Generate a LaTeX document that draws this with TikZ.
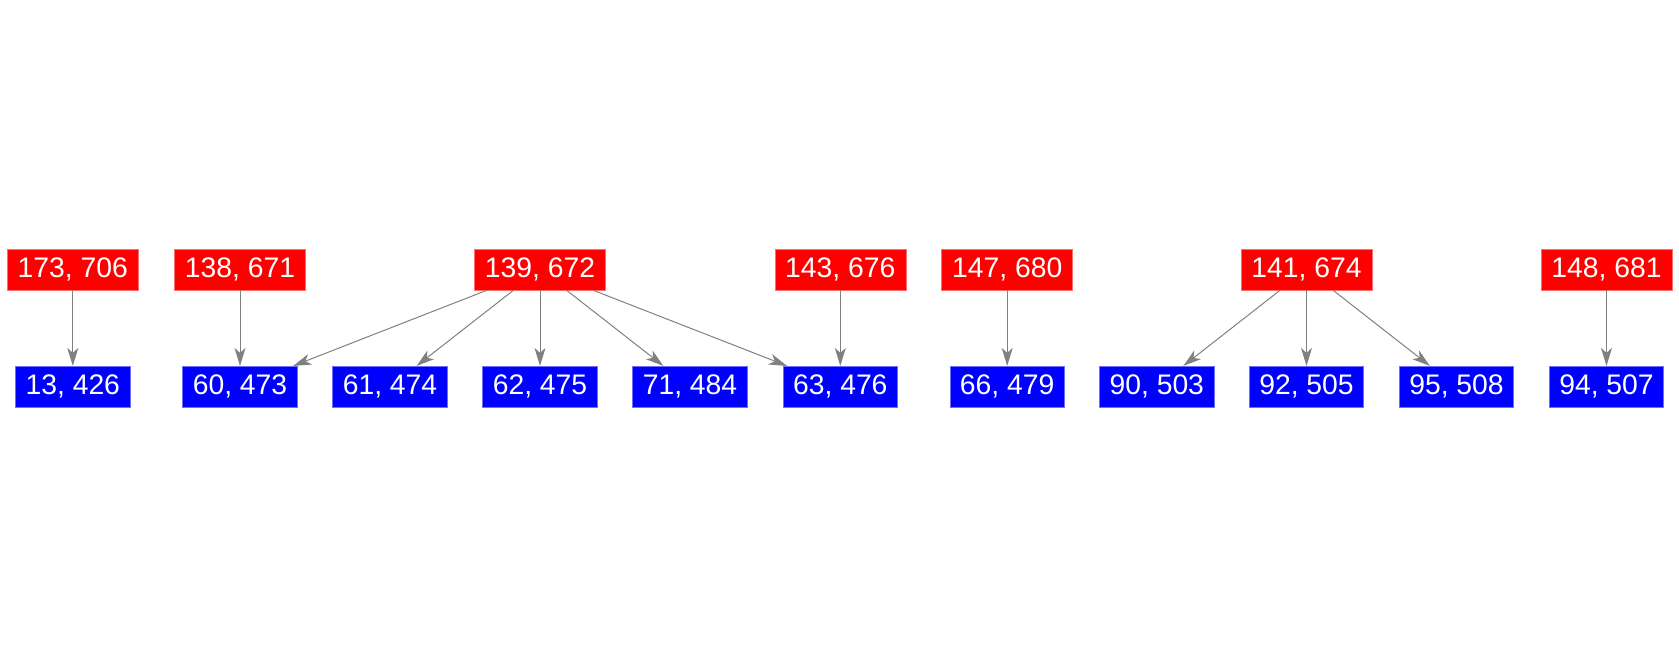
\documentclass[tikz,border=0pt]{standalone}
\usepackage{fontspec}
\setmainfont{Liberation Sans}
\usetikzlibrary{arrows.meta}
\begin{document}
\begin{tikzpicture}[x=1pt,y=-1pt,
  redbox/.style={rectangle,fill={rgb,255:red,255;green,0;blue,0},draw={rgb,255:red,255;green,110;blue,110},line width=0.6pt,minimum width=131pt,minimum height=41pt,inner sep=0pt,text=white,font=\fontsize{28.3}{30}\selectfont},
  bluebox/.style={rectangle,fill={rgb,255:red,0;green,0;blue,255},draw={rgb,255:red,110;green,110;blue,255},line width=0.6pt,minimum width=114.5pt,minimum height=41pt,inner sep=0pt,text=white,font=\fontsize{28.3}{30}\selectfont},
  edge/.style={draw={rgb,255:red,128;green,128;blue,128},line width=1pt,-{Stealth[length=18pt,width=11pt,inset=5pt]}}]
\useasboundingbox (0,0) rectangle (1679,656);
% red row
\node[redbox] (r1) at (72.8,269.5) {173, 706};
\node[redbox] (r2) at (240,269.5) {138, 671};
\node[redbox] (r3) at (540,269.5) {139, 672};
\node[redbox] (r4) at (840.3,269.5) {143, 676};
\node[redbox] (r5) at (1007.2,269.5) {147, 680};
\node[redbox] (r6) at (1306.5,269.5) {141, 674};
\node[redbox] (r7) at (1606.5,269.5) {148, 681};
% blue row
\node[bluebox] (b1) at (72.8,386.7) {13, 426};
\node[bluebox] (b2) at (240,386.7) {60, 473};
\node[bluebox] (b3) at (390,386.7) {61, 474};
\node[bluebox] (b4) at (540,386.7) {62, 475};
\node[bluebox] (b5) at (690,386.7) {71, 484};
\node[bluebox] (b6) at (840.3,386.7) {63, 476};
\node[bluebox] (b7) at (1007.2,386.7) {66, 479};
\node[bluebox] (b8) at (1156.8,386.7) {90, 503};
\node[bluebox] (b9) at (1306.5,386.7) {92, 505};
\node[bluebox] (b10) at (1456.5,386.7) {95, 508};
\node[bluebox] (b11) at (1606.5,386.7) {94, 507};
% edges
\draw[edge] (r1) -- (b1);
\draw[edge] (r2) -- (b2);
\draw[edge] (r3) -- (b2);
\draw[edge] (r3) -- (b3);
\draw[edge] (r3) -- (b4);
\draw[edge] (r3) -- (b5);
\draw[edge] (r3) -- (b6);
\draw[edge] (r4) -- (b6);
\draw[edge] (r5) -- (b7);
\draw[edge] (r6) -- (b8);
\draw[edge] (r6) -- (b9);
\draw[edge] (r6) -- (b10);
\draw[edge] (r7) -- (b11);
\end{tikzpicture}
\end{document}
